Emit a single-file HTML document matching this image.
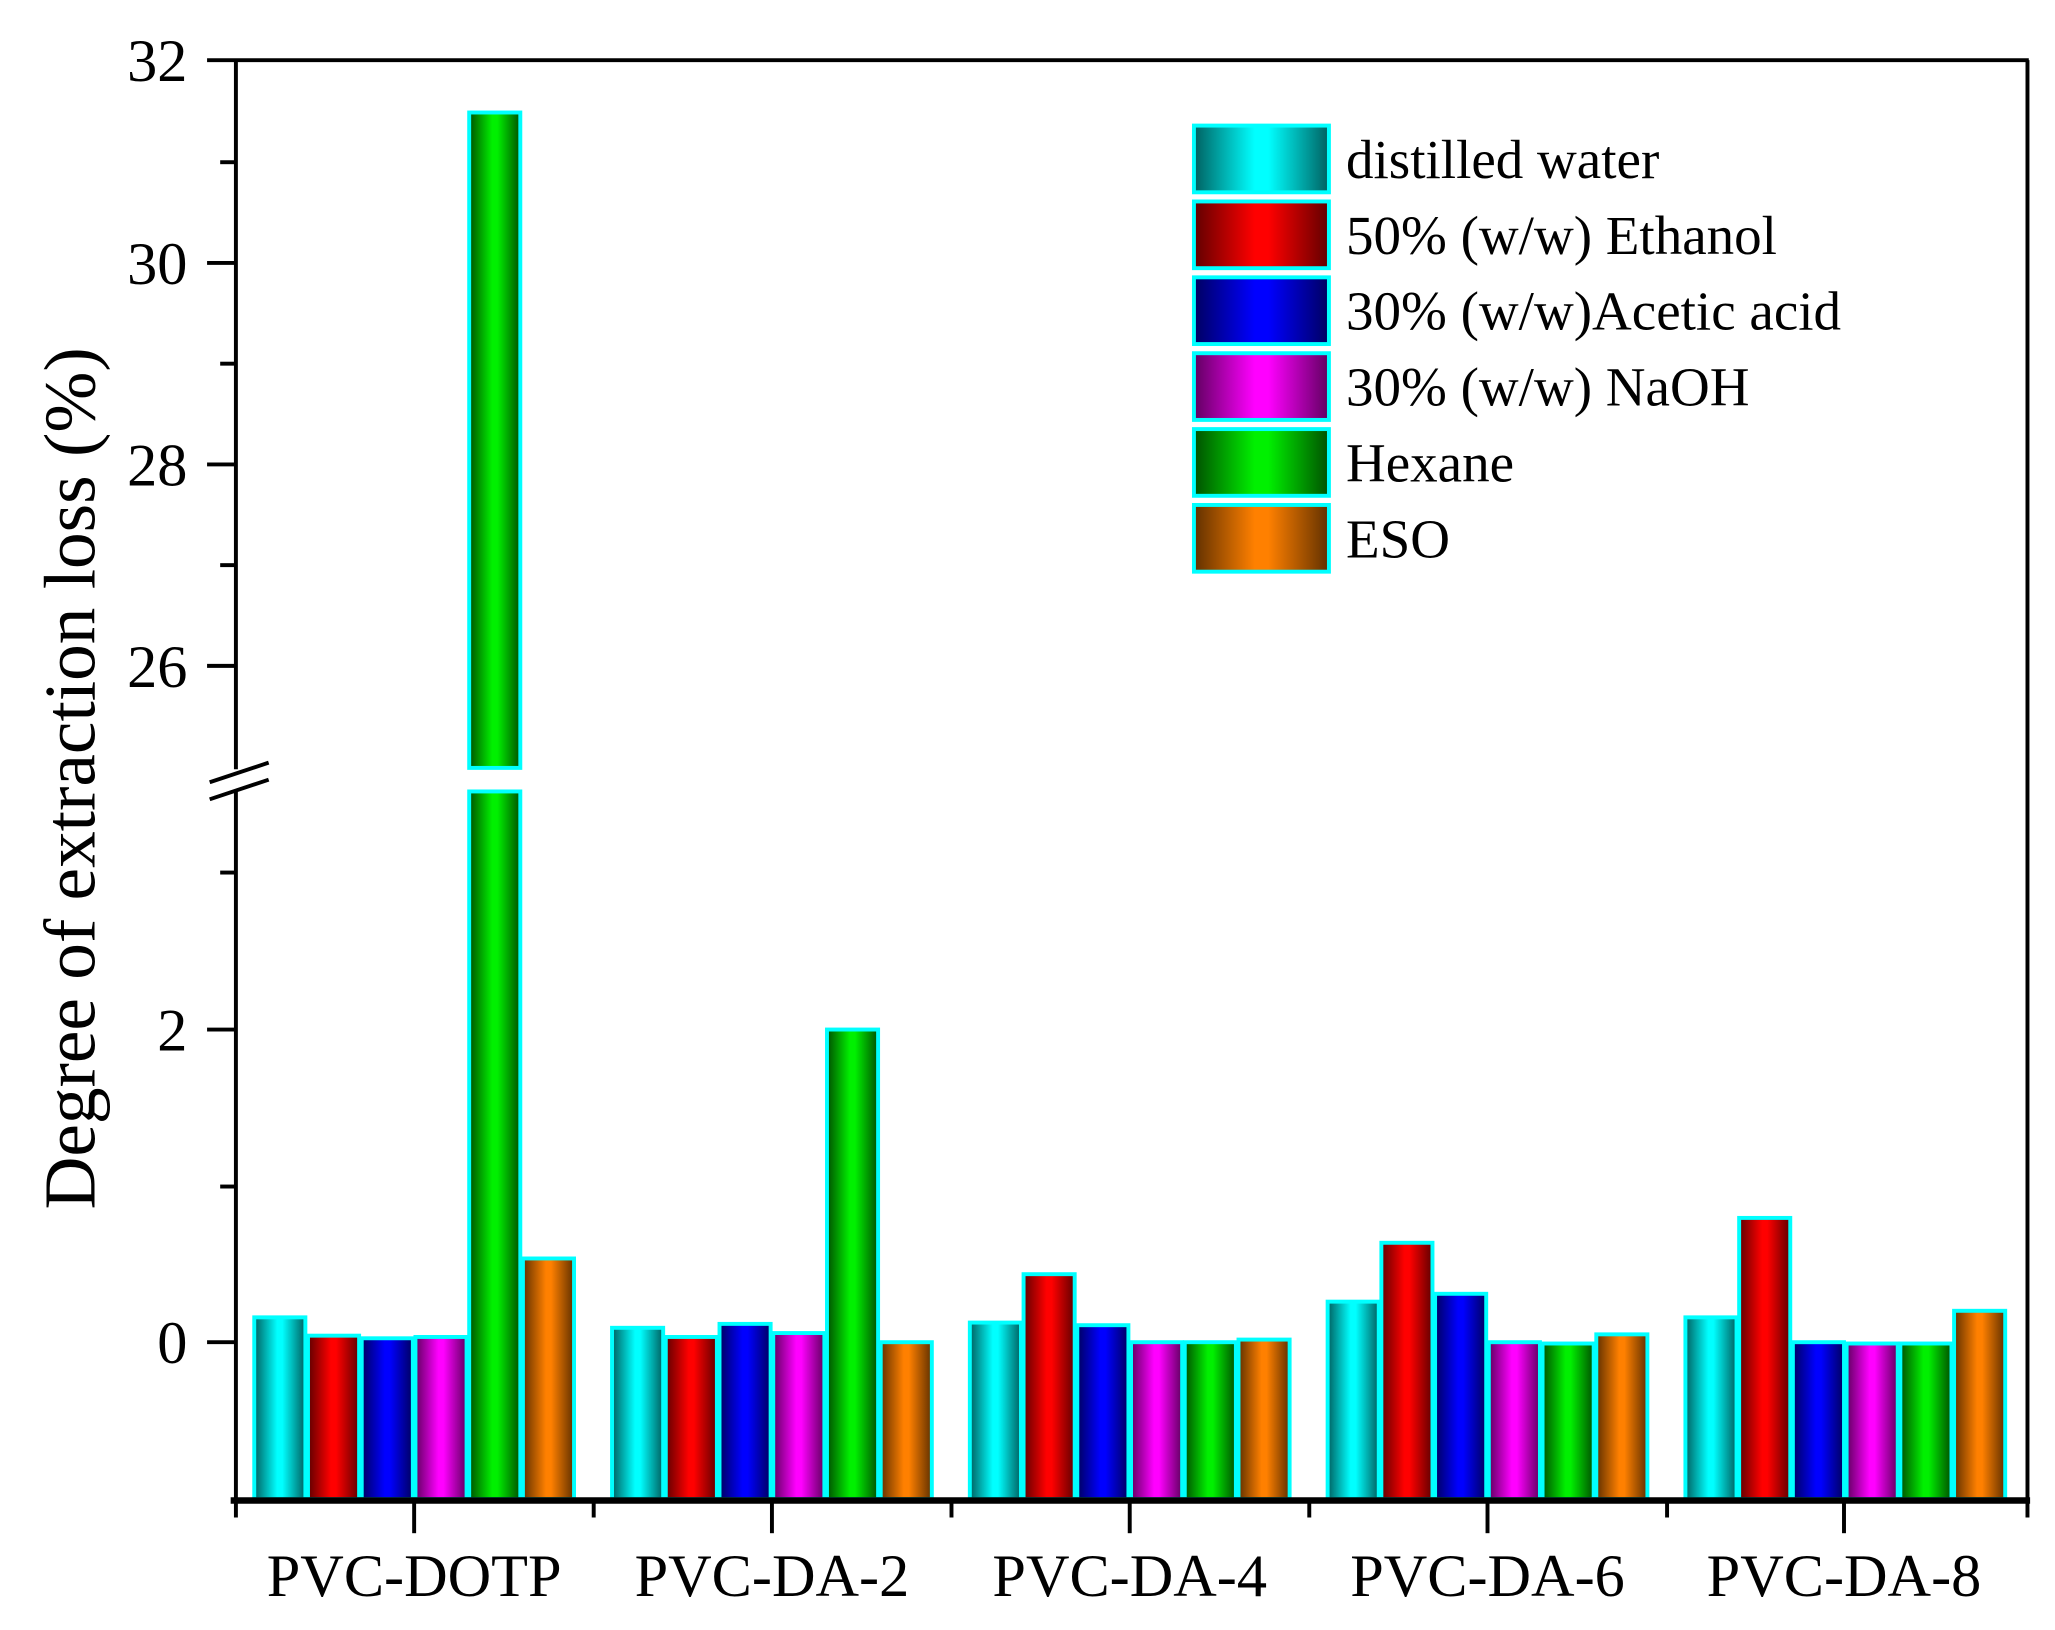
<!DOCTYPE html>
<html><head><style>html,body{margin:0;padding:0;background:#fff}svg{display:block}</style></head><body>
<svg width="2055" height="1630" viewBox="0 0 1568 1246" preserveAspectRatio="none" xmlns="http://www.w3.org/2000/svg" font-family="Liberation Serif, serif">
<defs>
<linearGradient id="gc" x1="0" x2="1"><stop offset="0" stop-color="#006060"/><stop offset="0.45" stop-color="#00ffff"/><stop offset="0.55" stop-color="#00ffff"/><stop offset="1" stop-color="#006060"/></linearGradient>
<linearGradient id="gr" x1="0" x2="1"><stop offset="0" stop-color="#600000"/><stop offset="0.45" stop-color="#ff0000"/><stop offset="0.55" stop-color="#ff0000"/><stop offset="1" stop-color="#600000"/></linearGradient>
<linearGradient id="gb" x1="0" x2="1"><stop offset="0" stop-color="#000060"/><stop offset="0.45" stop-color="#0000ff"/><stop offset="0.55" stop-color="#0000ff"/><stop offset="1" stop-color="#000060"/></linearGradient>
<linearGradient id="gm" x1="0" x2="1"><stop offset="0" stop-color="#600060"/><stop offset="0.45" stop-color="#ff00ff"/><stop offset="0.55" stop-color="#ff00ff"/><stop offset="1" stop-color="#600060"/></linearGradient>
<linearGradient id="gg" x1="0" x2="1"><stop offset="0" stop-color="#005000"/><stop offset="0.45" stop-color="#00f000"/><stop offset="0.55" stop-color="#00f000"/><stop offset="1" stop-color="#005000"/></linearGradient>
<linearGradient id="go" x1="0" x2="1"><stop offset="0" stop-color="#603000"/><stop offset="0.45" stop-color="#ff8000"/><stop offset="0.55" stop-color="#ff8000"/><stop offset="1" stop-color="#603000"/></linearGradient>
</defs>
<g stroke="#00ffff" stroke-width="3">
<rect x="194" y="1007" width="39" height="139" fill="url(#gc)"/>
<rect x="235" y="1021" width="39" height="125" fill="url(#gr)"/>
<rect x="276" y="1023" width="39" height="123" fill="url(#gb)"/>
<rect x="317" y="1022" width="39" height="124" fill="url(#gm)"/>
<rect x="358" y="605" width="39" height="541" fill="url(#gg)"/>
<rect x="358" y="86" width="39" height="501" fill="url(#gg)"/>
<rect x="399" y="962" width="39" height="184" fill="url(#go)"/>
<rect x="467" y="1015" width="39" height="131" fill="url(#gc)"/>
<rect x="508" y="1022" width="39" height="124" fill="url(#gr)"/>
<rect x="549" y="1012" width="39" height="134" fill="url(#gb)"/>
<rect x="590" y="1019" width="39" height="127" fill="url(#gm)"/>
<rect x="631" y="787" width="39" height="359" fill="url(#gg)"/>
<rect x="672" y="1026" width="39" height="120" fill="url(#go)"/>
<rect x="740" y="1011" width="39" height="135" fill="url(#gc)"/>
<rect x="781" y="974" width="39" height="172" fill="url(#gr)"/>
<rect x="822" y="1013" width="39" height="133" fill="url(#gb)"/>
<rect x="863" y="1026" width="39" height="120" fill="url(#gm)"/>
<rect x="904" y="1026" width="39" height="120" fill="url(#gg)"/>
<rect x="945" y="1024" width="39" height="122" fill="url(#go)"/>
<rect x="1013" y="995" width="39" height="151" fill="url(#gc)"/>
<rect x="1054" y="950" width="39" height="196" fill="url(#gr)"/>
<rect x="1095" y="989" width="39" height="157" fill="url(#gb)"/>
<rect x="1136" y="1026" width="39" height="120" fill="url(#gm)"/>
<rect x="1177" y="1027" width="39" height="119" fill="url(#gg)"/>
<rect x="1218" y="1020" width="39" height="126" fill="url(#go)"/>
<rect x="1286" y="1007" width="39" height="139" fill="url(#gc)"/>
<rect x="1327" y="931" width="39" height="215" fill="url(#gr)"/>
<rect x="1368" y="1026" width="39" height="120" fill="url(#gb)"/>
<rect x="1409" y="1027" width="39" height="119" fill="url(#gm)"/>
<rect x="1450" y="1027" width="39" height="119" fill="url(#gg)"/>
<rect x="1491" y="1002" width="39" height="144" fill="url(#go)"/>
</g>
<g stroke="#000" fill="none">
<line x1="158" y1="46" x2="1548" y2="46" stroke-width="3"/>
<line x1="1547" y1="46" x2="1547" y2="1146" stroke-width="3"/>
<line x1="180" y1="46" x2="180" y2="588" stroke-width="3"/>
<line x1="180" y1="604" x2="180" y2="1148" stroke-width="3"/>
<line x1="176" y1="1147" x2="1549" y2="1147" stroke-width="5"/>
<g stroke-width="3">
<line x1="158" y1="201" x2="180" y2="201"/><line x1="158" y1="355" x2="180" y2="355"/><line x1="158" y1="509" x2="180" y2="509"/>
<line x1="168" y1="124" x2="180" y2="124"/><line x1="168" y1="278" x2="180" y2="278"/><line x1="168" y1="432" x2="180" y2="432"/>
<line x1="158" y1="787" x2="180" y2="787"/><line x1="158" y1="1026" x2="180" y2="1026"/>
<line x1="168" y1="667" x2="180" y2="667"/><line x1="168" y1="907" x2="180" y2="907"/>
<line x1="160" y1="598" x2="205" y2="583"/><line x1="160" y1="611" x2="205" y2="596"/>
<line x1="180" y1="1147" x2="180" y2="1160"/><line x1="453" y1="1147" x2="453" y2="1160"/><line x1="726" y1="1147" x2="726" y2="1160"/><line x1="999" y1="1147" x2="999" y2="1160"/><line x1="1272" y1="1147" x2="1272" y2="1160"/><line x1="1547" y1="1147" x2="1547" y2="1160"/>
<line x1="316" y1="1147" x2="316" y2="1172"/><line x1="589" y1="1147" x2="589" y2="1172"/><line x1="862" y1="1147" x2="862" y2="1172"/><line x1="1135" y1="1147" x2="1135" y2="1172"/><line x1="1407" y1="1147" x2="1407" y2="1172"/>
</g></g>
<g font-size="46" fill="#000" text-anchor="end">
<text x="143" y="62">32</text><text x="143" y="217">30</text><text x="143" y="371">28</text><text x="143" y="525">26</text>
<text x="143" y="803">2</text><text x="143" y="1042">0</text>
</g>
<g font-size="46" fill="#000" text-anchor="middle">
<text x="316" y="1220">PVC-DOTP</text><text x="589" y="1220">PVC-DA-2</text><text x="862" y="1220">PVC-DA-4</text><text x="1135" y="1220">PVC-DA-6</text><text x="1407" y="1220">PVC-DA-8</text>
</g>
<text transform="translate(72,595) rotate(-90)" font-size="56" text-anchor="middle">Degree of extraction loss (%)</text>
<g stroke="#00ffff" stroke-width="3">
<rect x="911" y="96" width="103" height="51" fill="url(#gc)"/>
<rect x="911" y="154" width="103" height="51" fill="url(#gr)"/>
<rect x="911" y="212" width="103" height="51" fill="url(#gb)"/>
<rect x="911" y="270" width="103" height="51" fill="url(#gm)"/>
<rect x="911" y="328" width="103" height="51" fill="url(#gg)"/>
<rect x="911" y="386" width="103" height="51" fill="url(#go)"/>
</g>
<g font-size="42" fill="#000">
<text x="1027" y="136">distilled water</text>
<text x="1027" y="194">50% (w/w) Ethanol</text>
<text x="1027" y="252">30% (w/w)Acetic acid</text>
<text x="1027" y="310">30% (w/w) NaOH</text>
<text x="1027" y="368">Hexane</text>
<text x="1027" y="426">ESO</text>
</g>
</svg>
</body></html>
